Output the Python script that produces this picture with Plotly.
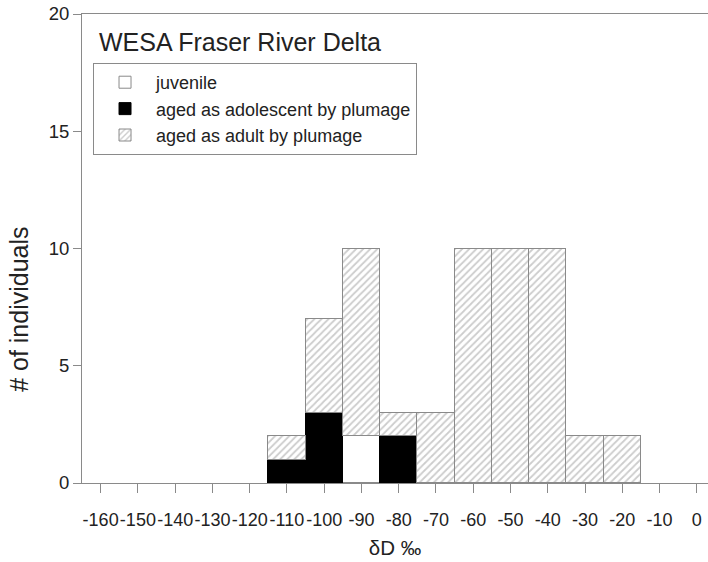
import plotly.graph_objects as go

bin_centers = [-110, -100, -90, -80, -70, -60, -50, -40, -30, -20]
juvenile    = [0, 0, 2, 0, 0, 0, 0, 0, 0, 0]
adolescent  = [1, 3, 0, 2, 0, 0, 0, 0, 0, 0]
adult       = [1, 4, 8, 1, 3, 10, 10, 10, 2, 2]
x_ticks = list(range(-160, 1, 10))
y_ticks = [0, 5, 10, 15, 20]

FONT = "Liberation Sans, Arial, sans-serif"
GRAY = "#8a8a8a"

fig = go.Figure()
fig.add_trace(go.Bar(
    x=bin_centers, y=juvenile, width=10, name="juvenile",
    marker=dict(color="white", line=dict(color=GRAY, width=1)),
))
fig.add_trace(go.Bar(
    x=bin_centers, y=adolescent, width=10, name="aged as adolescent by plumage",
    marker=dict(color="black", line=dict(color="black", width=1)),
))
fig.add_trace(go.Bar(
    x=bin_centers, y=adult, width=10, name="aged as adult by plumage",
    marker=dict(color="white", line=dict(color=GRAY, width=1),
                pattern=dict(shape="/", fgcolor="#9a9a9a", bgcolor="white",
                             size=5, solidity=0.35)),
))

fig.update_layout(
    barmode="stack", bargap=0,
    width=708, height=562,
    margin=dict(l=82, r=0, t=14, b=79),
    paper_bgcolor="white", plot_bgcolor="white",
    font=dict(family=FONT, size=18, color="#222"),
    showlegend=True,
    legend=dict(x=0.0176, y=0.8955, xanchor="left", yanchor="top",
                bordercolor=GRAY, borderwidth=1, bgcolor="white",
                font=dict(size=18, color="#222"), traceorder="normal",
                itemwidth=52, tracegroupgap=0),
    xaxis=dict(range=[-165, 3], tickvals=x_ticks, ticktext=[str(v) for v in x_ticks],
               showgrid=False, zeroline=False, showline=True, linecolor=GRAY,
               linewidth=1, mirror=True, ticks="outside", ticklen=9, tickcolor=GRAY,
               tickangle=0, automargin=False,
               tickfont=dict(size=18, color="#222"), ticklabelstandoff=11,
               title=dict(text="δD ‰", font=dict(size=20.5, color="#222"), standoff=12)),
    yaxis=dict(range=[0, 20], tickvals=y_ticks, showgrid=False, zeroline=False,
               showline=True, linecolor=GRAY, linewidth=1, ticks="outside",
               automargin=False,
               ticklen=8, tickcolor=GRAY, tickfont=dict(size=18.5, color="#222")),
    annotations=[
        dict(text="WESA Fraser River Delta", xref="paper", yref="paper",
             x=0.024, y=0.975, xanchor="left", yanchor="top", showarrow=False,
             font=dict(size=25, color="#222", family=FONT)),
        dict(text="# of individuals", xref="paper", yref="paper",
             x=-0.1, y=0.37, xanchor="center", yanchor="middle", textangle=-90,
             showarrow=False, font=dict(size=25, color="#222", family=FONT)),
    ],
)

fig.write_html("out.html")
